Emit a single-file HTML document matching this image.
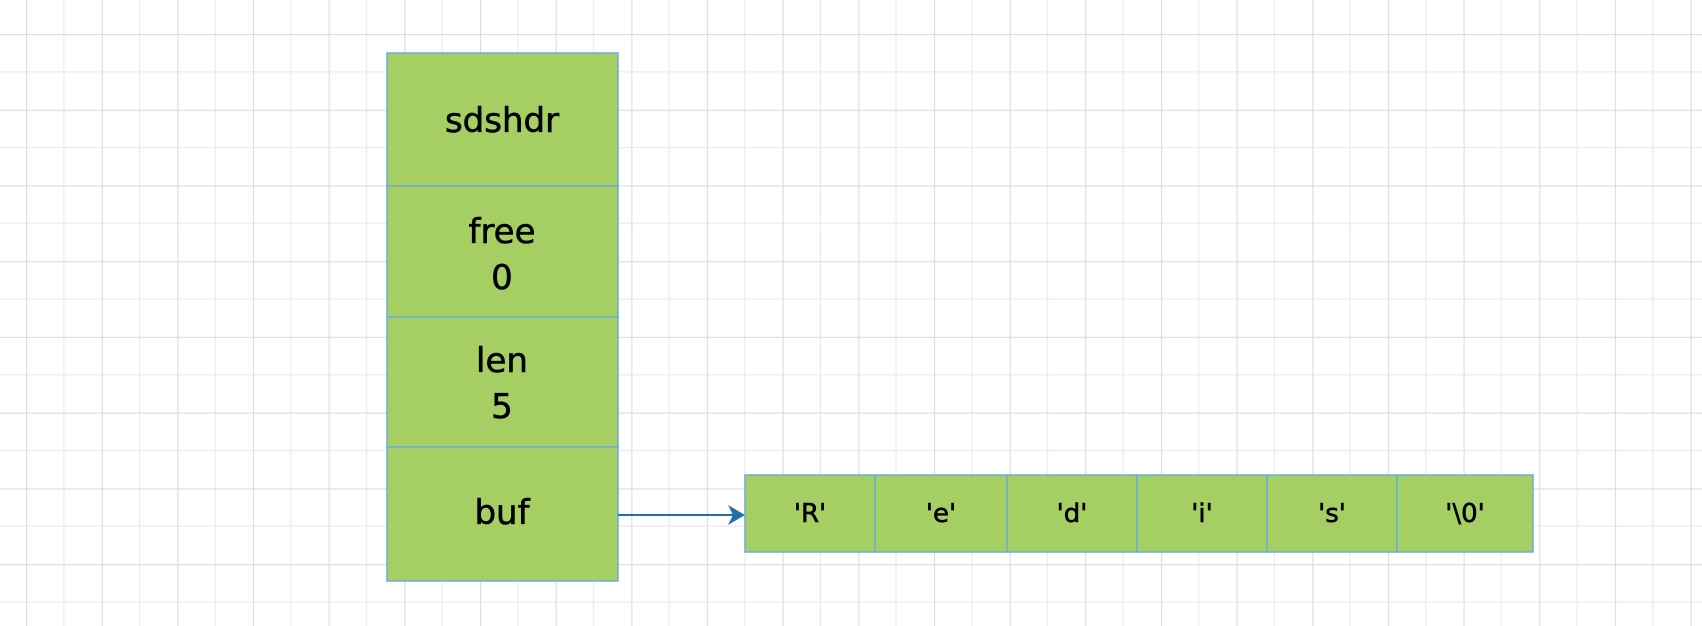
<!DOCTYPE html>
<html><head><meta charset="utf-8"><style>
html,body{margin:0;padding:0;background:#fff}
svg{display:block}
text{font-family:"DejaVu Sans","Liberation Sans",sans-serif;fill:#000;stroke:#000;stroke-width:0.6;text-anchor:middle;dominant-baseline:central}
</style></head><body>
<svg width="1702" height="626" viewBox="0 0 1702 626" xmlns="http://www.w3.org/2000/svg">
<defs>
<pattern id="g" x="26" y="34" width="75.66" height="75.72" patternUnits="userSpaceOnUse">
<path d="M37.83 0V75.72M0 37.86H75.66" stroke="#ececec" stroke-width="1.3" fill="none"/>
<path d="M0.5 0V75.72M0 0.5H75.66" stroke="#dcdcdc" stroke-width="1.3" fill="none"/>
</pattern>
</defs>
<rect width="1702" height="626" fill="url(#g)"/>
<g fill="#a5cf63" stroke="#6aaed6" stroke-width="1.5">
<rect x="387" y="53" width="231" height="133"/>
<rect x="387" y="186" width="231" height="131"/>
<rect x="387" y="317" width="231" height="130"/>
<rect x="387" y="447" width="231" height="134"/>
<rect x="745" y="475" width="130" height="77"/>
<rect x="875" y="475" width="132" height="77"/>
<rect x="1007" y="475" width="130" height="77"/>
<rect x="1137" y="475" width="130" height="77"/>
<rect x="1267" y="475" width="130" height="77"/>
<rect x="1397" y="475" width="136" height="77"/>
</g>
<g font-size="34">
<text x="502" y="121">sdshdr</text>
<text x="502" y="232">free</text>
<text x="502" y="278">0</text>
<text x="502" y="361">len</text>
<text x="502" y="407">5</text>
<text x="502" y="513">buf</text>
</g>
<g font-size="26">
<text x="810" y="514">'R'</text>
<text x="941" y="514">'e'</text>
<text x="1072" y="514">'d'</text>
<text x="1202" y="514">'i'</text>
<text x="1332" y="514">'s'</text>
<text x="1465" y="514">'\0'</text>
</g>
<line x1="618" y1="515" x2="735" y2="515" stroke="#2370a8" stroke-width="2"/>
<path d="M745 515L728 505L733 515L728 525Z" fill="#2370a8"/>
</svg>
</body></html>
